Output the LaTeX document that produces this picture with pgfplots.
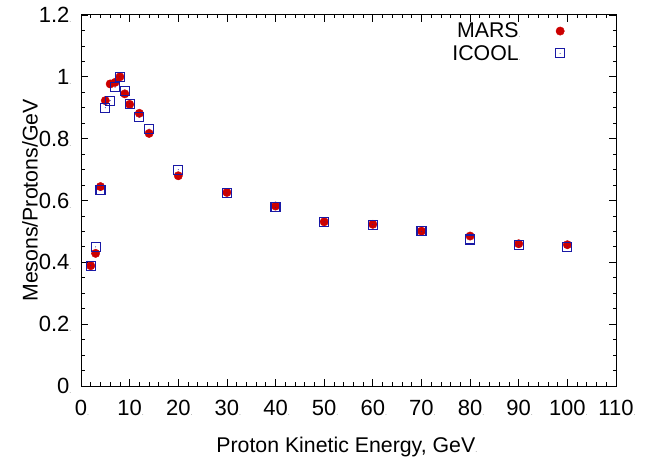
\documentclass[border=0pt]{standalone}
\usepackage{fontspec}
\setmainfont{Liberation Sans}
\usepackage{pgfplots}
\pgfplotsset{compat=1.18}
\definecolor{marsred}{RGB}{204,0,0}
\definecolor{icoolblue}{RGB}{25,25,165}
\pgfdeclareplotmark{squaredot}{%
  \pgfpathrectangle{\pgfpoint{-\pgfplotmarksize}{-\pgfplotmarksize}}{\pgfpoint{2\pgfplotmarksize}{2\pgfplotmarksize}}%
  \pgfusepathqstroke
  \pgfpathcircle{\pgfpointorigin}{0.5bp}%
  \pgfusepathqfill
}
\newcommand{\tdot}{\rlap{\textcolor{gray}{\fontsize{7bp}{7bp}\selectfont.}}}
\begin{document}
\begin{tikzpicture}
\useasboundingbox (0,0) rectangle (649bp,458bp);
\begin{axis}[
  at={(81bp,72bp)}, anchor=south west,
  scale only axis, width=535bp, height=371bp,
  xmin=0, xmax=110, ymin=0, ymax=1.2,
  xtick={0,10,...,110}, ytick={0,0.2,...,1.2},
  minor x tick num=4, minor y tick num=3,
  tick align=inside,
  major tick length=7bp, minor tick length=3.5bp,
  axis line style={line width=1bp},
  every tick/.style={black, line width=0.8bp},
  /pgf/number format/assume math mode=true,
  ticklabel style={font=\fontsize{22bp}{25bp}\selectfont},
  xticklabel={\pgfmathprintnumber{\tick}\tdot},
  yticklabel={\pgfmathprintnumber{\tick}\tdot},
  yticklabel style={xshift=-8bp},
  xticklabel style={yshift=-11bp},
  label style={font=\fontsize{21.3bp}{25bp}\selectfont},
  xlabel={Proton Kinetic Energy, GeV\tdot},
  ylabel={Mesons/Protons/GeV},
  xlabel style={at={(axis description cs:0.495,-0.178)}, anchor=base},
  ylabel style={at={(axis description cs:-0.0955,0.5)}, anchor=center},
  legend style={draw=none, fill=none, at={(axis description cs:0.91,0.99)}, anchor=north east,
    font=\fontsize{21.3bp}{25bp}\selectfont, row sep=2bp},
  legend plot pos=right,
  legend cell align=right,
]
\addplot[only marks, mark=*, mark size=4.2bp, color=marsred] coordinates {
(2,0.389) (3,0.429) (4,0.645) (5,0.923) (6,0.977) (7,0.982) (8,1.0) (9,0.945)
(10,0.911) (12,0.882) (14,0.817) (20,0.680) (30,0.626) (40,0.582) (50,0.531)
(60,0.523) (70,0.501) (80,0.485) (90,0.460) (100,0.457)
};
\addlegendentry{MARS\tdot\hspace*{35bp}}
\addplot[only marks, mark=squaredot, mark size=4.5bp, color=icoolblue, mark options={line width=1.1bp}] coordinates {
(2,0.389) (3,0.45) (4,0.633) (5,0.90) (6,0.923) (7,0.966) (8,1.0) (9,0.954)
(10,0.913) (12,0.871) (14,0.831) (20,0.70) (30,0.624) (40,0.578) (50,0.531)
(60,0.522) (70,0.500) (80,0.474) (90,0.455) (100,0.450)
};
\addlegendentry{ICOOL\tdot\hspace*{35bp}}
\end{axis}
\end{tikzpicture}
\end{document}
